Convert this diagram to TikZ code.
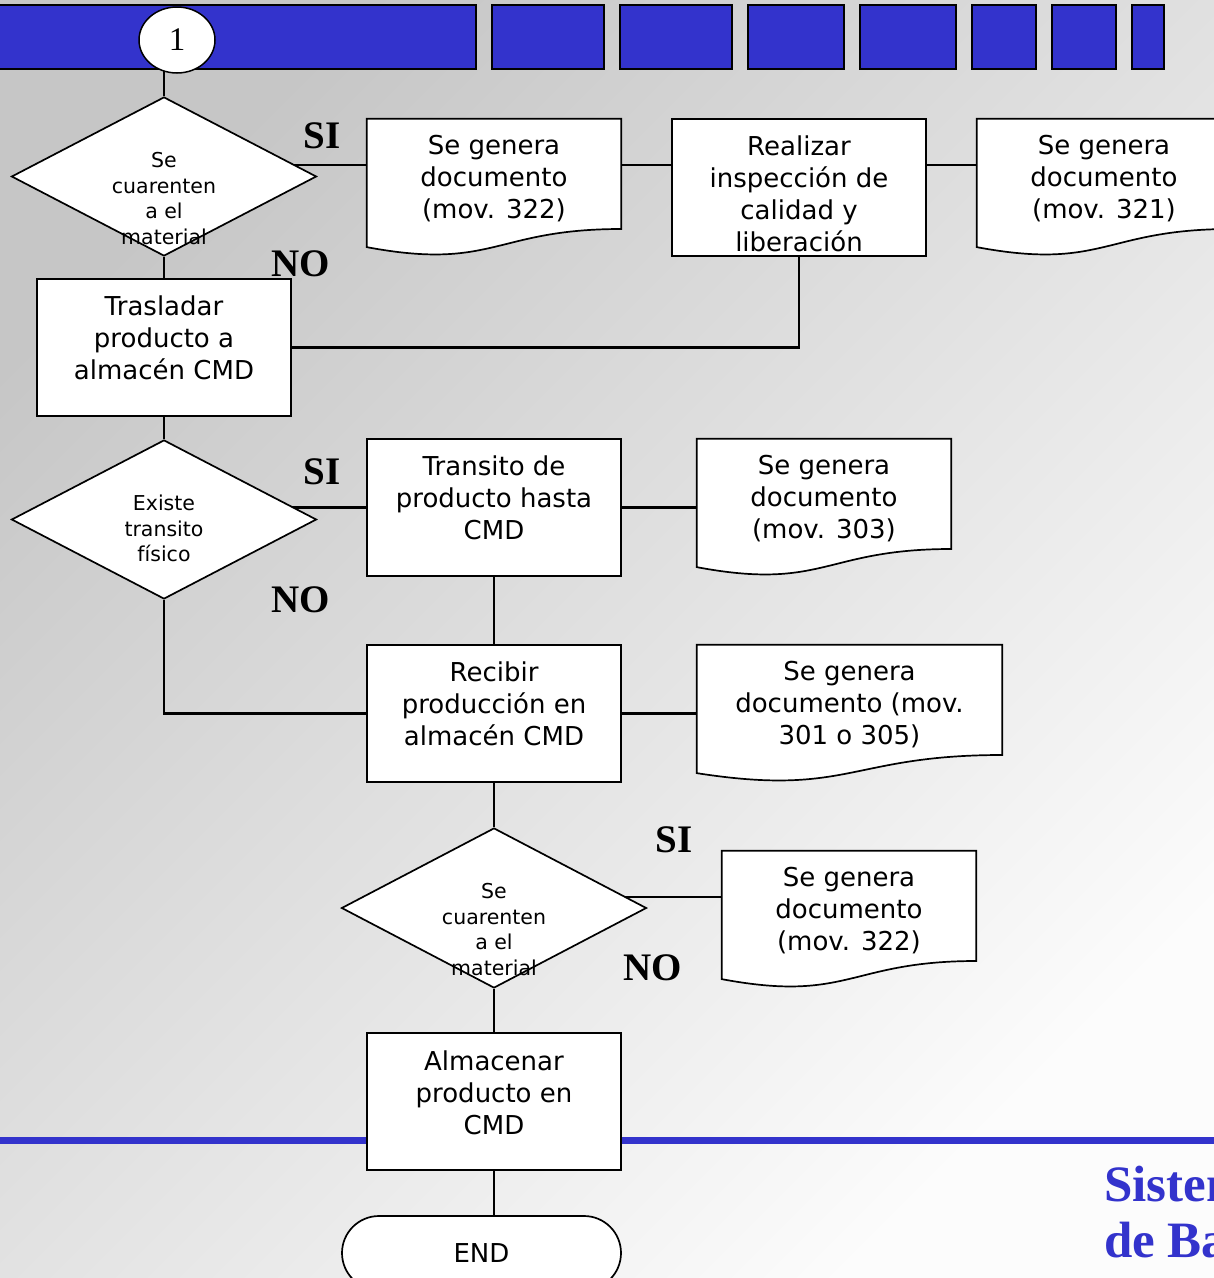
\documentclass[tikz,border=0pt]{standalone}
\usepackage{fontspec}
\setmainfont{DejaVu Sans}
\newfontfamily\tnr{Liberation Serif}
\usetikzlibrary{shapes.geometric,calc}
\definecolor{barblue}{RGB}{51,51,204}
\definecolor{bgdark}{RGB}{198,198,198}
\definecolor{bglight}{RGB}{252,252,252}
\pgfdeclarelayer{bg}
\pgfdeclarelayer{links}
\pgfsetlayers{bg,links,main}
\tikzset{
 shapeline/.style={draw=black, line width=1.7pt, fill=white},
 boxn/.style={shapeline, rectangle, minimum width=254pt, minimum height=137pt, inner sep=0pt},
 docn/.style={rectangle, draw=none, minimum height=137pt, inner sep=0pt},
 dian/.style={shapeline, diamond, minimum width=305pt, minimum height=159pt, inner sep=0pt},
 bigtxt/.style={align=center, font=\fontsize{26}{32}\selectfont, inner sep=0pt},
 smalltxt/.style={align=center, font=\fontsize{20.5}{25.5}\selectfont, inner sep=0pt},
 yesno/.style={font=\tnr\bfseries\fontsize{39}{39}\selectfont, inner sep=0pt},
 conn/.style={line width=2.3pt, draw=black},
 barrect/.style={fill=barblue, draw=black, line width=2pt},
 brand/.style={font=\tnr\bfseries\fontsize{51}{56}\selectfont, text=barblue, anchor=base west, inner sep=0pt},
}
\newcommand\docshape[4]{%
 \node[docn, minimum width=#4pt] (#1) at (#2, #3+68.5) {};
 \filldraw[shapeline] (#1.north west) -- (#1.north east)
  -- ($(#1.north east)!0.802!(#1.south east)$)
  .. controls ($(#1.north)!0.802!(#1.south)$) and ($(#1.north)!1.1075!(#1.south)$)
  .. ($(#1.north west)!0.934!(#1.south west)$) -- cycle;}
\begin{document}
\begin{tikzpicture}[x=1pt,y=-1pt]
\useasboundingbox (0,0) rectangle (1214,1278);
\begin{pgfonlayer}{bg}
 \shade[top color=bgdark, bottom color=bglight, shading angle=45] (0,0) rectangle (1214,1278);
 \draw[barrect] (-5,5) rectangle (476,69);
 \draw[barrect] (492,5) rectangle (604,69);
 \draw[barrect] (620,5) rectangle (732,69);
 \draw[barrect] (748,5) rectangle (844,69);
 \draw[barrect] (860,5) rectangle (956,69);
 \draw[barrect] (972,5) rectangle (1036,69);
 \draw[barrect] (1052,5) rectangle (1116,69);
 \draw[barrect] (1132,5) rectangle (1164,69);
 \fill[barblue] (0,1137) rectangle (1214,1144);
\end{pgfonlayer}

% start connector circle
\node[draw, fill=white, ellipse, line width=1.5pt, minimum width=76pt, minimum height=66pt, inner sep=0pt, font=\tnr\fontsize{33}{33}\selectfont] (circ) at (177,40) {1};

% first decision row
\node[dian] (dia1) at (164,176.5) {};
\node[smalltxt] (tdia1) at (164,198.5) {Se\\cuarenten\\a el\\material};
\docshape{d1}{494}{119}{254}
\node[bigtxt] (td1) at (494,179) {Se genera\\documento\\(mov. 322)};
\node[boxn] (b2) at (799,187.5) {};
\node[bigtxt] (tb2) at (799,194) {Realizar\\inspección de\\calidad y\\liberación};
\docshape{d3}{1104}{119}{254}
\node[bigtxt] (td3) at (1104,179) {Se genera\\documento\\(mov. 321)};
\coordinate (yrow1) at (0,165);

\node[boxn] (tras) at (164,347.5) {};
\node[bigtxt] (ttras) at (164,338) {Trasladar\\producto a\\almacén CMD};

% second decision row
\node[dian] (dia2) at (164,519.5) {};
\node[smalltxt] (tdia2) at (164,528.5) {Existe\\transito\\físico};
\node[boxn] (trans) at (494,507.5) {};
\node[bigtxt] (ttrans) at (494,498) {Transito de\\producto hasta\\CMD};
\docshape{d303}{824}{439}{254}
\node[bigtxt] (td303) at (824,499) {Se genera\\documento\\(mov. 303)};

\node[boxn] (recv) at (494,713.5) {};
\node[bigtxt] (trecv) at (494,704) {Recibir\\producción en\\almacén CMD};
\docshape{d301}{849.5}{645}{305}
\node[bigtxt] (td301) at (849.5,705) {Se genera\\documento (mov.\\301 o 305)};

% third decision row
\node[dian, minimum height=160pt] (dia3) at (494,908) {};
\node[smalltxt] (tdia3) at (494,929.5) {Se\\cuarenten\\a el\\material};
\docshape{d322}{849}{851}{254}
\node[bigtxt] (td322) at (849,911) {Se genera\\documento\\(mov. 322)};
\coordinate (yrow3) at (0,897);

\node[boxn] (alm) at (494,1101.5) {};
\node[bigtxt] (talm) at (494,1093) {Almacenar\\producto en\\CMD};

\node[shapeline, rounded corners=37pt, minimum width=279pt, minimum height=74pt, inner sep=0pt, font=\fontsize{26}{32}\selectfont] (endn) at (481.5,1253) {END};

% SI / NO labels
\node[yesno] (si1) at (322,136) {SI};
\node[yesno] (no1) at (301,264) {NO};
\node[yesno] (si2) at (322,472) {SI};
\node[yesno] (no2) at (301,600) {NO};
\node[yesno] (si3) at (674,840) {SI};
\node[yesno] (no3) at (653,968) {NO};

% brand text (cut by the right edge, as in the reference)
\node[brand] (sis1) at (1104,1201) {Sistem};
\node[brand] (sis2) at (1104,1257) {de Ba};

% connectors
\begin{pgfonlayer}{links}
 \draw[conn] (dia1.north) -- (dia1.north |- circ.center);
 \draw[conn] (dia1.center |- yrow1) -- (d1.west |- yrow1);
 \draw[conn] (d1.east |- yrow1) -- (b2.west |- yrow1);
 \draw[conn] (b2.east |- yrow1) -- (d3.west |- yrow1);
 \draw[conn] (dia1.south) -- (tras.north);
 \draw[conn] (b2.south) -- (b2.south |- tras.east) -- (tras.east);
 \draw[conn] (tras.south) -- (dia2.north);
 \draw[conn] (dia2.center |- trans.west) -- (trans.west);
 \draw[conn] (trans.east) -- (trans.east -| d303.west);
 \draw[conn] (trans.south) -- (recv.north);
 \draw[conn] (dia2.south) -- (dia2.south |- recv.west) -- (recv.west);
 \draw[conn] (recv.east) -- (recv.east -| d301.west);
 \draw[conn] (recv.south) -- (dia3.north);
 \draw[conn] (dia3.center |- yrow3) -- (d322.west |- yrow3);
 \draw[conn] (dia3.south) -- (alm.north);
 \draw[conn] (alm.south) -- (alm.south |- endn.north);
\end{pgfonlayer}
\end{tikzpicture}
\end{document}
